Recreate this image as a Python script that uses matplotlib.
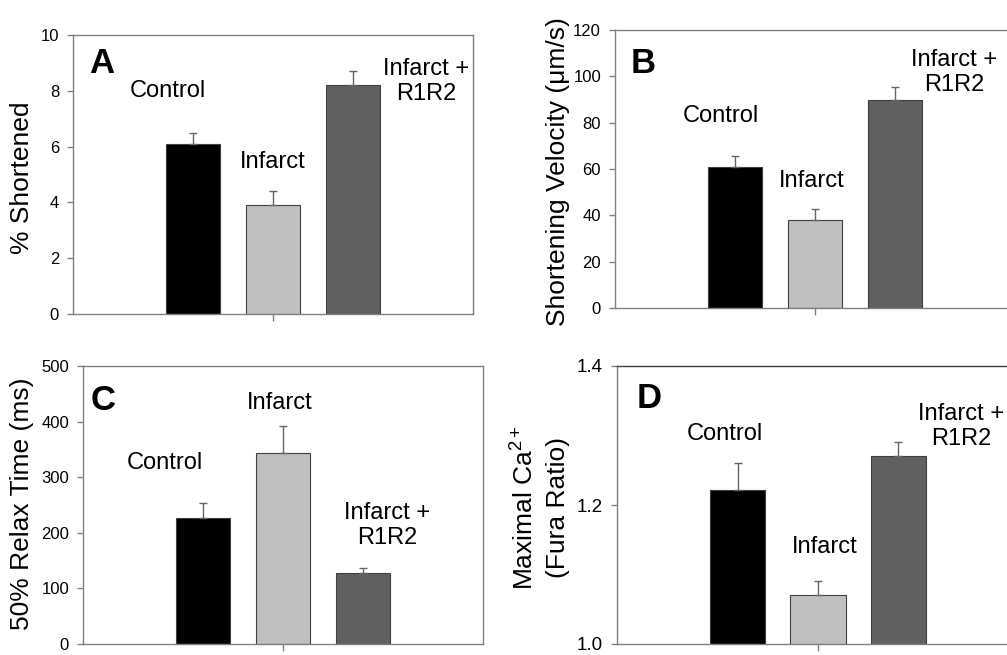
import numpy as np
import matplotlib
matplotlib.use('Agg')
import matplotlib.pyplot as plt

plt.rcParams['font.family'] = ['Liberation Sans', 'DejaVu Sans']
plt.rcParams['mathtext.fontset'] = 'custom'
plt.rcParams['mathtext.rm'] = 'Liberation Sans'
plt.rcParams['mathtext.it'] = 'Liberation Sans:italic'
plt.rcParams['mathtext.bf'] = 'Liberation Sans:bold'

# data (mean, upper SEM)
groups = ['Control', 'Infarct', 'Infarct +\nR1R2']
bar_colors = ['#000000', '#c0c0c0', '#606060']

shortened = [6.1, 3.9, 8.2]
shortened_err = [0.4, 0.5, 0.5]
velocity = [61, 38, 90]
velocity_err = [4.5, 4.7, 5.6]
relax_time = [227, 343, 128]
relax_time_err = [26, 49, 8.5]
max_calcium = [1.221, 1.070, 1.270]
max_calcium_err = [0.039, 0.021, 0.020]

W, H = 1007, 655
fig = plt.figure(figsize=(W / 100, H / 100), dpi=100)


def add_axes_px(left, top, right, bottom):
    # axes box given in pixels of the output image
    return fig.add_axes([left / W, 1 - bottom / H, (right - left) / W, (bottom - top) / H])


def panel(ax, vals, errs, ylim, yticks, yticklabels, ylabel, ylabel_xy,
          letter, letter_xy, label_xy, tick_size=12):
    x = np.arange(len(vals)) - 1
    ax.bar(x, vals, width=0.685, color=bar_colors, edgecolor='#404040',
           linewidth=0.8, zorder=2)
    ax.errorbar(x, vals, yerr=[np.zeros(len(errs)), errs], fmt='none',
                ecolor='#666666', elinewidth=1, capsize=3, capthick=1, zorder=3)

    ax.set_xlim(-2.5, 2.5)
    ax.set_ylim(*ylim)
    ax.set_yticks(yticks)
    ax.set_yticklabels(yticklabels)
    ax.set_xticks([0])
    ax.set_xticklabels([])
    ax.tick_params(axis='y', direction='out', length=4, width=1, color='#808080',
                   labelsize=tick_size, pad=6)
    ax.tick_params(axis='x', direction='out', length=5, width=1, color='#808080')
    for s in ax.spines.values():
        s.set_color('#808080')
        s.set_linewidth(1)

    ax.set_ylabel(ylabel, fontsize=19, va='center', ha='center', linespacing=1.4)
    ax.yaxis.set_label_coords(*ylabel_xy)

    ax.text(letter_xy[0], letter_xy[1], letter, transform=ax.transAxes,
            fontsize=25, fontweight='bold', ha='left', va='baseline')
    # anchor is the baseline of the last line of each label
    for name, (tx, ty) in zip(groups, label_xy):
        ax.text(tx, ty, name, fontsize=17, ha='center', va='baseline',
                multialignment='center', linespacing=1.2)


ax_a = add_axes_px(73, 35, 473, 314)
panel(ax_a, shortened, shortened_err, (0, 10), [0, 2, 4, 6, 8, 10],
      ['0', '2', '4', '6', '8', '10'], '% Shortened', (-0.128, 0.49),
      'A', (0.04, 0.864), [(-1.31, 7.78), (0, 5.23), (1.91, 7.67)])

ax_b = add_axes_px(615, 30, 1015, 308)
panel(ax_b, velocity, velocity_err, (0, 120), [0, 20, 40, 60, 80, 100, 120],
      ['0', '20', '40', '60', '80', '100', '120'],
      'Shortening Velocity (μm/s)', (-0.1425, 0.49),
      'B', (0.04, 0.845), [(-1.18, 80.3), (-0.04, 52.2), (1.74, 93.7)])

ax_c = add_axes_px(83, 366, 483, 644)
panel(ax_c, relax_time, relax_time_err, (0, 500), [0, 100, 200, 300, 400, 500],
      ['0', '100', '200', '300', '400', '500'], '50% Relax Time (ms)',
      (-0.1525, 0.505),
      'C', (0.02, 0.842), [(-1.48, 315), (-0.04, 423), (1.3, 180)])

ax_d = add_axes_px(617, 366, 1019, 644)
panel(ax_d, max_calcium, max_calcium_err, (1.0, 1.4), [1.0, 1.2, 1.4],
      ['1.0', '1.2', '1.4'], 'Maximal Ca$^{2+}$\n(Fura Ratio)', (-0.189, 0.49),
      'D', (0.05, 0.849), [(-1.16, 1.2935), (0.09, 1.131), (1.78, 1.286)],
      tick_size=13.5)
ax_d.spines['top'].set_color('#404040')

fig.savefig('out.png', dpi=100)
